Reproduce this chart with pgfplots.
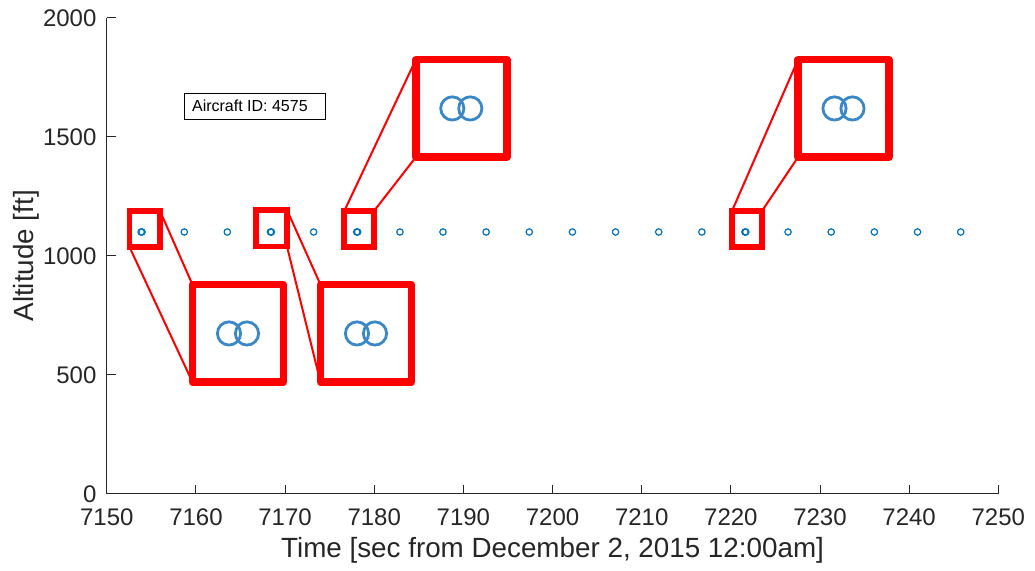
\documentclass[border=0pt]{standalone}
\usepackage{fontspec}
\setmainfont{Liberation Sans}
\usepackage{pgfplots}
\pgfplotsset{compat=1.18}
\usepackage{pgfplotstable}
\definecolor{axgray}{HTML}{262626}
\definecolor{mblue}{HTML}{0072BD}
\definecolor{iblue}{HTML}{3B88C9}

\pgfplotstableread{
t alt
7153.85 1100
7153.95 1100
7158.69 1100
7163.52 1100
7168.36 1100
7168.46 1100
7173.20 1100
7178.04 1100
7178.14 1100
7182.88 1100
7187.71 1100
7192.55 1100
7197.39 1100
7202.23 1100
7207.07 1100
7211.91 1100
7216.75 1100
7221.58 1100
7221.68 1100
7226.42 1100
7231.26 1100
7236.10 1100
7240.94 1100
7245.78 1100
}\tracks

\pgfplotsset{
  inset/.style={scale only axis, width=45.5pt, height=48.75pt, hide axis,
    ymin=1099, ymax=1101, clip=true, anchor=north west},
  insetplot/.style={only marks, mark=o, mark size=5.8pt, iblue, line width=1.4pt}
}

\begin{document}
\begin{tikzpicture}
\path[use as bounding box] (0,0) rectangle (517.5pt,-285.5pt);

\begin{axis}[
  at={(53.4pt,-246.9pt)}, anchor=south west,
  scale only axis, width=445.75pt, height=238pt,
  xmin=7150, xmax=7250, ymin=0, ymax=2000,
  xtick={7150,7160,...,7250}, ytick={0,500,...,2000},
  axis lines*=left,
  axis line style={axgray, line width=0.5pt},
  tick style={axgray, line width=0.5pt},
  tick align=inside, major tick length=4.5pt,
  tick label style={font=\fontsize{12}{14}\selectfont, text=axgray},
  /pgf/number format/assume math mode=true,
  /pgf/number format/1000 sep={},
  xticklabel style={anchor=base, yshift=-15.75pt},
  yticklabel style={anchor=east, inner sep=0pt, xshift=-5pt},
  xlabel={Time [sec from December 2, 2015 12:00am]},
  ylabel={Altitude [ft]},
  label style={font=\fontsize{13.9}{16}\selectfont, text=axgray},
  xlabel style={at={(axis description cs:0.5,-0.1332)}, anchor=base},
  ylabel style={at={(axis description cs:-0.0824,0.5)}, anchor=base},
]
\addplot[only marks, mark=o, mark size=1.6pt, mblue, line width=0.6pt] table[x=t,y=alt]{\tracks};
\end{axis}

\begin{scope}[x=0.5pt,y=-0.5pt]
  % annotation
  \draw[black, line width=0.5pt] (184,93.5) rectangle (325,120);
  \node[anchor=base west, inner sep=0pt, font=\fontsize{8}{9}\selectfont, text=black] at (191.7,111.7) {Aircraft ID: 4575};
  % connecting lines
  \draw[red, line width=1pt] (129.5,247) -- (192.5,382.2);
  \draw[red, line width=1pt] (160,211) -- (192.5,284.7);
  \draw[red, line width=1pt] (287,246.5) -- (320.5,382.2);
  \draw[red, line width=1pt] (287,210) -- (320.5,284.7);
  \draw[red, line width=1pt] (344.3,211) -- (415.8,59.7);
  \draw[red, line width=1pt] (374,211) -- (415.8,157.2);
  \draw[red, line width=1pt] (732,211) -- (798,59.7);
  \draw[red, line width=1pt] (762,211) -- (798,157.2);
  % small boxes
  \draw[red, line width=2.85pt] (129.5,211) rectangle (160,247);
  \draw[red, line width=2.85pt] (256,210) rectangle (287,246.5);
  \draw[red, line width=2.85pt] (344.3,211) rectangle (374,247);
  \draw[red, line width=2.85pt] (732,211) rectangle (762,247);
  % inset backgrounds
  \fill[white] (192.5,284.7) rectangle +(91,97.5);
  \fill[white] (320.5,284.7) rectangle +(91,97.5);
  \fill[white] (415.8,59.7) rectangle +(91,97.5);
  \fill[white] (798,59.7) rectangle +(91,97.5);
\end{scope}

\begin{axis}[inset, at={(96.25pt,-142.35pt)}, xmin=7153.647, xmax=7154.153]
\addplot[insetplot, restrict x to domain=7153.647:7154.153] table[x=t,y=alt]{\tracks};
\end{axis}
\begin{axis}[inset, at={(160.25pt,-142.35pt)}, xmin=7168.157, xmax=7168.663]
\addplot[insetplot, restrict x to domain=7168.157:7168.663] table[x=t,y=alt]{\tracks};
\end{axis}
\begin{axis}[inset, at={(207.9pt,-29.85pt)}, xmin=7177.837, xmax=7178.343]
\addplot[insetplot, restrict x to domain=7177.837:7178.343] table[x=t,y=alt]{\tracks};
\end{axis}
\begin{axis}[inset, at={(399pt,-29.85pt)}, xmin=7221.377, xmax=7221.883]
\addplot[insetplot, restrict x to domain=7221.377:7221.883] table[x=t,y=alt]{\tracks};
\end{axis}

\begin{scope}[x=0.5pt,y=-0.5pt]
  \draw[red, line width=3.75pt, line join=round] (192.5,284.7) rectangle +(91,97.5);
  \draw[red, line width=3.75pt, line join=round] (320.5,284.7) rectangle +(91,97.5);
  \draw[red, line width=3.75pt, line join=round] (415.8,59.7) rectangle +(91,97.5);
  \draw[red, line width=3.75pt, line join=round] (798,59.7) rectangle +(91,97.5);
\end{scope}
\end{tikzpicture}
\end{document}
